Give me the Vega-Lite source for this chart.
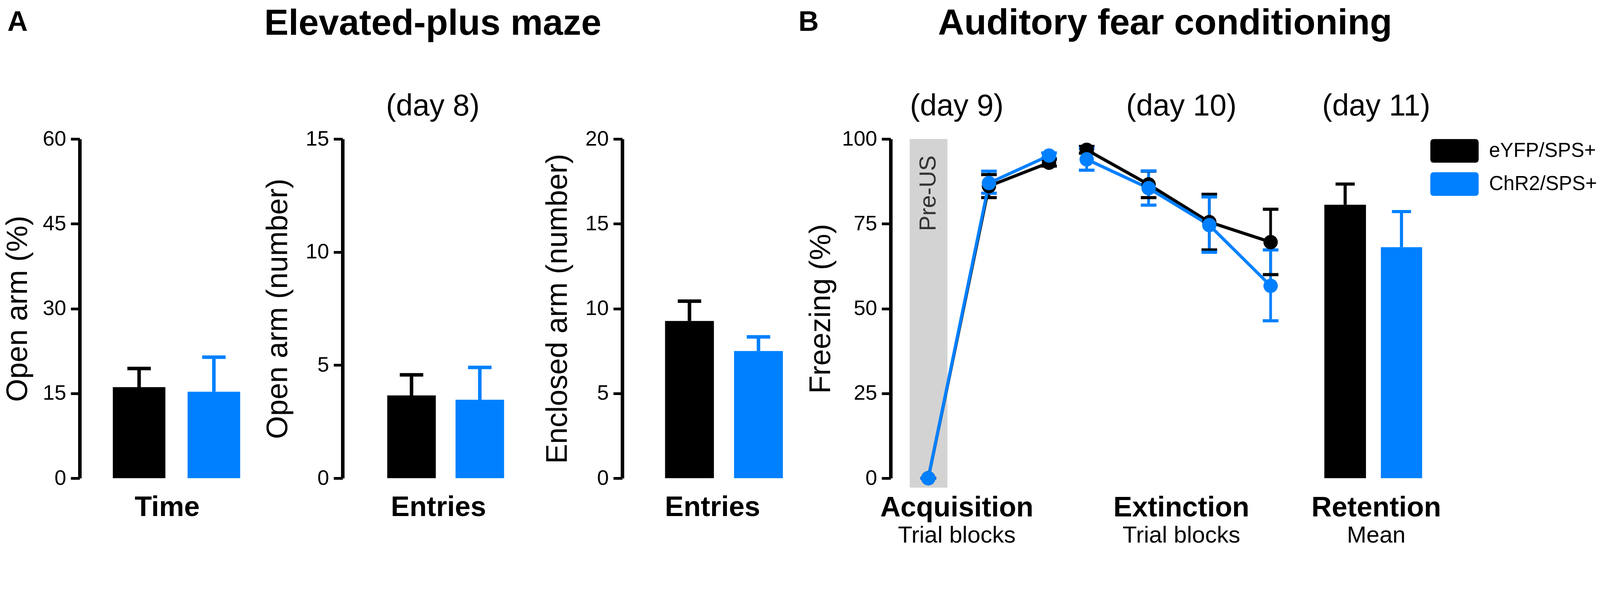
{
  "$schema": "https://vega.github.io/schema/vega-lite/v6.json",
  "padding": {"left": 7, "top": 13, "right": 0, "bottom": 0},
  "bounds": "flush",
  "spacing": 226,
  "datasets": {
    "epm": [
      {"measure": "time", "group": "eYFP/SPS+", "mean": 16.1, "hi": 19.4},
      {"measure": "time", "group": "ChR2/SPS+", "mean": 15.3, "hi": 21.4},
      {"measure": "open", "group": "eYFP/SPS+", "mean": 3.66, "hi": 4.57},
      {"measure": "open", "group": "ChR2/SPS+", "mean": 3.47, "hi": 4.9},
      {"measure": "closed", "group": "eYFP/SPS+", "mean": 9.27, "hi": 10.44},
      {"measure": "closed", "group": "ChR2/SPS+", "mean": 7.5, "hi": 8.33}
    ],
    "fear": [
      {"phase": "Acquisition", "x": 0.62, "group": "eYFP/SPS+", "mean": 0, "lo": 0, "hi": 0},
      {"phase": "Acquisition", "x": 1.62, "group": "eYFP/SPS+", "mean": 86.1, "lo": 82.7, "hi": 89.5},
      {"phase": "Acquisition", "x": 2.61, "group": "eYFP/SPS+", "mean": 93.0, "lo": 92.0, "hi": 94.0},
      {"phase": "Extinction", "x": 3.23, "group": "eYFP/SPS+", "mean": 96.8, "lo": 95.8, "hi": 97.8},
      {"phase": "Extinction", "x": 4.25, "group": "eYFP/SPS+", "mean": 86.6, "lo": 82.7, "hi": 90.5},
      {"phase": "Extinction", "x": 5.25, "group": "eYFP/SPS+", "mean": 75.5, "lo": 67.3, "hi": 83.7},
      {"phase": "Extinction", "x": 6.26, "group": "eYFP/SPS+", "mean": 69.6, "lo": 60.0, "hi": 79.3},
      {"phase": "Acquisition", "x": 0.62, "group": "ChR2/SPS+", "mean": 0, "lo": 0, "hi": 0},
      {"phase": "Acquisition", "x": 1.62, "group": "ChR2/SPS+", "mean": 87.0, "lo": 84.0, "hi": 90.5},
      {"phase": "Acquisition", "x": 2.61, "group": "ChR2/SPS+", "mean": 95.1, "lo": 94.3, "hi": 95.9},
      {"phase": "Extinction", "x": 3.23, "group": "ChR2/SPS+", "mean": 94.0, "lo": 90.8, "hi": 97.2},
      {"phase": "Extinction", "x": 4.25, "group": "ChR2/SPS+", "mean": 85.5, "lo": 80.5, "hi": 90.6},
      {"phase": "Extinction", "x": 5.25, "group": "ChR2/SPS+", "mean": 74.6, "lo": 66.6, "hi": 82.9},
      {"phase": "Extinction", "x": 6.26, "group": "ChR2/SPS+", "mean": 56.7, "lo": 46.4, "hi": 67.3}
    ],
    "retention": [
      {"group": "eYFP/SPS+", "x0": 7.145, "x1": 7.831, "xc": 7.488, "mean": 80.6, "hi": 86.7},
      {"group": "ChR2/SPS+", "x0": 8.076, "x1": 8.756, "xc": 8.416, "mean": 68.1, "hi": 78.6}
    ],
    "phases": [
      {"name": "Acquisition", "sub": "Trial blocks", "day": "(day 9)", "x": 1.09},
      {"name": "Extinction", "sub": "Trial blocks", "day": "(day 10)", "x": 4.79},
      {"name": "Retention", "sub": "Mean", "day": "(day 11)", "x": 8.0}
    ],
    "band": [
      {"label": "Pre-US", "x0": 0.314, "x1": 0.936, "xc": 0.625, "top": 100, "bottom": -2.8}
    ]
  },
  "resolve": {"scale": {"color": "independent"}},
  "hconcat": [
    {
      "width": 447,
      "height": 869,
      "data": {"name": "epm"},
      "transform": [{"filter": "datum.measure === 'time'"}],
      "title": {"text": "A", "anchor": "start", "frame": "bounds", "fontSize": 72, "fontWeight": "bold", "offset": 235, "dx": 11},
      "encoding": {
        "x": {
          "field": "group", "type": "nominal", "sort": ["eYFP/SPS+", "ChR2/SPS+"],
          "scale": {"paddingInner": 0.297, "paddingOuter": 0.316, "align": 0.701},
          "axis": {"title": "Time", "labels": false, "ticks": false, "domain": false, "titleFontWeight": "bold", "titleFontSize": 72, "titlePadding": 39}
        },
        "color": {"field": "group", "type": "nominal", "scale": {"domain": ["eYFP/SPS+", "ChR2/SPS+"], "range": ["#000000", "#0080FF"]}, "legend": null}
      },
      "layer": [
        {"mark": "bar", "encoding": {"y": {"field": "mean", "type": "quantitative", "title": "Open arm (%)", "scale": {"domain": [0, 60], "nice": false}, "axis": {"values": [0, 15, 30, 45, 60], "format": "d", "titlePadding": 24}}}},
        {"mark": {"type": "rule", "strokeWidth": 9}, "encoding": {"y": {"field": "mean", "type": "quantitative", "title": "Open arm (%)"}, "y2": {"field": "hi"}}},
        {"mark": {"type": "tick", "orient": "horizontal", "size": 60, "thickness": 9, "opacity": 1}, "encoding": {"y": {"field": "hi", "type": "quantitative", "title": "Open arm (%)"}}}
      ]
    },
    {
      "width": 490,
      "height": 869,
      "data": {"name": "epm"},
      "transform": [{"filter": "datum.measure === 'open'"}],
      "title": {"text": "Elevated-plus maze", "subtitle": "(day 8)", "fontSize": 93, "fontWeight": "bold", "subtitleFontSize": 77, "subtitlePadding": 126, "anchor": "middle", "offset": 17, "dx": -14},
      "encoding": {
        "x": {
          "field": "group", "type": "nominal", "sort": ["eYFP/SPS+", "ChR2/SPS+"],
          "scale": {"paddingInner": 0.289, "paddingOuter": 0.546, "align": 0.599},
          "axis": {"title": "Entries", "labels": false, "ticks": false, "domain": false, "titleFontWeight": "bold", "titleFontSize": 72, "titlePadding": 39}
        },
        "color": {"field": "group", "type": "nominal", "scale": {"domain": ["eYFP/SPS+", "ChR2/SPS+"], "range": ["#000000", "#0080FF"]}, "legend": null}
      },
      "layer": [
        {"mark": "bar", "encoding": {"y": {"field": "mean", "type": "quantitative", "title": "Open arm (number)", "scale": {"domain": [0, 15], "nice": false}, "axis": {"values": [0, 5, 10, 15], "format": "d", "titlePadding": 31}}}},
        {"mark": {"type": "rule", "strokeWidth": 9}, "encoding": {"y": {"field": "mean", "type": "quantitative", "title": "Open arm (number)"}, "y2": {"field": "hi"}}},
        {"mark": {"type": "tick", "orient": "horizontal", "size": 60, "thickness": 9, "opacity": 1}, "encoding": {"y": {"field": "hi", "type": "quantitative", "title": "Open arm (number)"}}}
      ]
    },
    {
      "width": 461,
      "height": 869,
      "data": {"name": "epm"},
      "transform": [{"filter": "datum.measure === 'closed'"}],
      "title": {"text": "B", "anchor": "end", "frame": "group", "fontSize": 72, "fontWeight": "bold", "offset": 235, "dx": 42},
      "encoding": {
        "x": {
          "field": "group", "type": "nominal", "sort": ["eYFP/SPS+", "ChR2/SPS+"],
          "scale": {"paddingInner": 0.292, "paddingOuter": 0.451, "align": 0.6875},
          "axis": {"title": "Entries", "labels": false, "ticks": false, "domain": false, "titleFontWeight": "bold", "titleFontSize": 72, "titlePadding": 39}
        },
        "color": {"field": "group", "type": "nominal", "scale": {"domain": ["eYFP/SPS+", "ChR2/SPS+"], "range": ["#000000", "#0080FF"]}, "legend": null}
      },
      "layer": [
        {"mark": "bar", "encoding": {"y": {"field": "mean", "type": "quantitative", "title": "Enclosed arm (number)", "scale": {"domain": [0, 20], "nice": false}, "axis": {"values": [0, 5, 10, 15, 20], "format": "d", "titlePadding": 31}}}},
        {"mark": {"type": "rule", "strokeWidth": 9}, "encoding": {"y": {"field": "mean", "type": "quantitative", "title": "Enclosed arm (number)"}, "y2": {"field": "hi"}}},
        {"mark": {"type": "tick", "orient": "horizontal", "size": 60, "thickness": 9, "opacity": 1}, "encoding": {"y": {"field": "hi", "type": "quantitative", "title": "Enclosed arm (number)"}}}
      ]
    },
    {
      "width": 1383,
      "height": 869,
      "title": {"text": "Auditory fear conditioning", "fontSize": 93, "fontWeight": "bold", "anchor": "middle", "offset": 126, "dx": 11},
      "layer": [
        {
          "data": {"name": "band"},
          "mark": {"type": "rect", "color": "#D3D3D3"},
          "encoding": {
            "x": {"field": "x0", "type": "quantitative", "scale": {"domain": [0, 8.9], "nice": false, "zero": false}, "axis": null},
            "x2": {"field": "x1"},
            "y": {"field": "top", "type": "quantitative", "title": "Freezing (%)", "scale": {"domain": [0, 100], "nice": false}, "axis": {"values": [0, 25, 50, 75, 100], "format": "d", "titlePadding": 14}},
            "y2": {"field": "bottom"}
          }
        },
        {
          "data": {"name": "band"},
          "mark": {"type": "text", "angle": 270, "fontSize": 59, "color": "#333333", "align": "center", "baseline": "middle"},
          "encoding": {
            "x": {"field": "xc", "type": "quantitative", "axis": null},
            "y": {"datum": 84, "title": "Freezing (%)"},
            "text": {"field": "label"}
          }
        },
        {
          "data": {"name": "fear"},
          "mark": {"type": "rule", "strokeWidth": 7},
          "encoding": {
            "x": {"field": "x", "type": "quantitative", "axis": null},
            "y": {"field": "lo", "type": "quantitative", "title": "Freezing (%)"},
            "y2": {"field": "hi"},
            "stroke": {"field": "group", "type": "nominal", "scale": {"domain": ["eYFP/SPS+", "ChR2/SPS+"], "range": ["#000000", "#0080FF"]}, "legend": null}
          }
        },
        {
          "data": {"name": "fear"},
          "mark": {"type": "tick", "orient": "horizontal", "size": 40, "thickness": 8, "opacity": 1},
          "encoding": {
            "x": {"field": "x", "type": "quantitative", "axis": null},
            "y": {"field": "lo", "type": "quantitative", "title": "Freezing (%)"},
            "fill": {"field": "group", "type": "nominal", "scale": {"domain": ["eYFP/SPS+", "ChR2/SPS+"], "range": ["#000000", "#0080FF"]}, "legend": null}
          }
        },
        {
          "data": {"name": "fear"},
          "mark": {"type": "tick", "orient": "horizontal", "size": 40, "thickness": 8, "opacity": 1},
          "encoding": {
            "x": {"field": "x", "type": "quantitative", "axis": null},
            "y": {"field": "hi", "type": "quantitative", "title": "Freezing (%)"},
            "fill": {"field": "group", "type": "nominal", "legend": null}
          }
        },
        {
          "data": {"name": "fear"},
          "mark": {"type": "line", "strokeWidth": 8},
          "encoding": {
            "x": {"field": "x", "type": "quantitative", "axis": null},
            "y": {"field": "mean", "type": "quantitative", "title": "Freezing (%)"},
            "detail": {"field": "phase"},
            "stroke": {"field": "group", "type": "nominal", "legend": null}
          }
        },
        {
          "data": {"name": "fear"},
          "mark": {"type": "circle", "size": 1353, "opacity": 1},
          "encoding": {
            "x": {"field": "x", "type": "quantitative", "axis": null},
            "y": {"field": "mean", "type": "quantitative", "title": "Freezing (%)"},
            "fill": {"field": "group", "type": "nominal", "legend": null}
          }
        },
        {
          "data": {"name": "retention"},
          "mark": {"type": "rect"},
          "encoding": {
            "x": {"field": "x0", "type": "quantitative", "axis": null},
            "x2": {"field": "x1"},
            "y": {"field": "mean", "type": "quantitative", "title": "Freezing (%)"},
            "y2": {"datum": 0},
            "color": {
              "field": "group", "type": "nominal",
              "scale": {"domain": ["eYFP/SPS+", "ChR2/SPS+"], "range": ["#000000", "#0080FF"]},
              "legend": {
                "title": null,
                "symbolType": "M-1.745,-1H1.745Q2.045,-1 2.045,-0.7V0.7Q2.045,1 1.745,1H-1.745Q-2.045,1 -2.045,0.7V-0.7Q-2.045,-1 -1.745,-1Z"
              }
            }
          }
        },
        {
          "data": {"name": "retention"},
          "mark": {"type": "rule", "strokeWidth": 8},
          "encoding": {
            "x": {"field": "xc", "type": "quantitative", "axis": null},
            "y": {"field": "mean", "type": "quantitative", "title": "Freezing (%)"},
            "y2": {"field": "hi"},
            "stroke": {"field": "group", "type": "nominal", "legend": null}
          }
        },
        {
          "data": {"name": "retention"},
          "mark": {"type": "tick", "orient": "horizontal", "size": 49, "thickness": 8, "opacity": 1},
          "encoding": {
            "x": {"field": "xc", "type": "quantitative", "axis": null},
            "y": {"field": "hi", "type": "quantitative", "title": "Freezing (%)"},
            "fill": {"field": "group", "type": "nominal", "legend": null}
          }
        },
        {
          "data": {"name": "phases"},
          "mark": {"type": "text", "fontSize": 72, "fontWeight": "bold", "align": "center", "baseline": "middle"},
          "encoding": {
            "x": {"field": "x", "type": "quantitative", "axis": null},
            "y": {"datum": -8.7, "title": "Freezing (%)"},
            "text": {"field": "name"}
          }
        },
        {
          "data": {"name": "phases"},
          "mark": {"type": "text", "fontSize": 60, "align": "center", "baseline": "middle"},
          "encoding": {
            "x": {"field": "x", "type": "quantitative", "axis": null},
            "y": {"datum": -16.9, "title": "Freezing (%)"},
            "text": {"field": "sub"}
          }
        },
        {
          "data": {"name": "phases"},
          "mark": {"type": "text", "fontSize": 77, "align": "center", "baseline": "middle"},
          "encoding": {
            "x": {"field": "x", "type": "quantitative", "axis": null},
            "y": {"datum": 109.6, "title": "Freezing (%)"},
            "text": {"field": "day"}
          }
        }
      ]
    }
  ],
  "config": {
    "font": "Liberation Sans",
    "view": {"stroke": null},
    "axis": {
      "domainColor": "black",
      "domainWidth": 9,
      "tickColor": "black",
      "tickWidth": 7,
      "tickSize": 23,
      "labelFont": "Liberation Sans",
      "labelFontSize": 54,
      "labelColor": "black",
      "labelPadding": 12,
      "titleFont": "Liberation Sans",
      "titleFontSize": 76,
      "titleFontWeight": "normal",
      "titleColor": "black",
      "grid": false
    },
    "title": {"color": "black", "font": "Liberation Sans", "subtitleFont": "Liberation Sans", "subtitleColor": "black"},
    "text": {"font": "Liberation Sans", "color": "black"},
    "legend": {
      "orient": "right",
      "offset": 30,
      "padding": 0,
      "symbolSize": 3660,
      "symbolStrokeWidth": 0,
      "symbolOpacity": 1,
      "labelFont": "Liberation Sans",
      "labelFontSize": 51,
      "labelColor": "black",
      "labelOffset": 58,
      "labelLimit": 0,
      "rowPadding": 24
    }
  }
}
